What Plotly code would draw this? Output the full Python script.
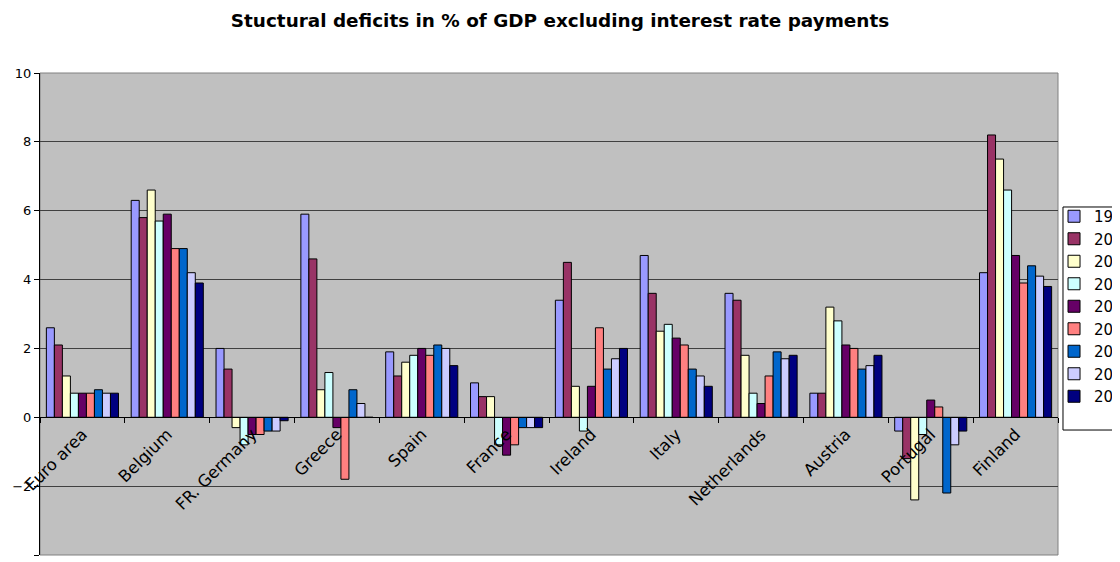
import plotly.graph_objects as go

countries = ["Euro area", "Belgium", "FR. Germany", "Greece", "Spain", "France",
             "Ireland", "Italy", "Netherlands", "Austria", "Portugal", "Finland"]
years = ["1999", "2000", "2001", "2002", "2003", "2004", "2005", "2006", "2007"]

# values per year, ordered like countries
v1999 = [2.6, 6.3, 2.0, 5.9, 1.9, 1.0, 3.4, 4.7, 3.6, 0.7, -0.4, 4.2]
v2000 = [2.1, 5.8, 1.4, 4.6, 1.2, 0.6, 4.5, 3.6, 3.4, 0.7, -1.2, 8.2]
v2001 = [1.2, 6.6, -0.3, 0.8, 1.6, 0.6, 0.9, 2.5, 1.8, 3.2, -2.4, 7.5]
v2002 = [0.7, 5.7, -0.8, 1.3, 1.8, -0.8, -0.4, 2.7, 0.7, 2.8, -0.5, 6.6]
v2003 = [0.7, 5.9, -0.5, -0.3, 2.0, -1.1, 0.9, 2.3, 0.4, 2.1, 0.5, 4.7]
v2004 = [0.7, 4.9, -0.5, -1.8, 1.8, -0.8, 2.6, 2.1, 1.2, 2.0, 0.3, 3.9]
v2005 = [0.8, 4.9, -0.4, 0.8, 2.1, -0.3, 1.4, 1.4, 1.9, 1.4, -2.2, 4.4]
v2006 = [0.7, 4.2, -0.4, 0.4, 2.0, -0.3, 1.7, 1.2, 1.7, 1.5, -0.8, 4.1]
v2007 = [0.7, 3.9, -0.1, 0.0, 1.5, -0.3, 2.0, 0.9, 1.8, 1.8, -0.4, 3.8]
series = [v1999, v2000, v2001, v2002, v2003, v2004, v2005, v2006, v2007]
colors = ["#9999FF", "#993366", "#FFFFCC", "#CCFFFF", "#660066",
          "#FF8080", "#0066CC", "#CCCCFF", "#000080"]

FONT = "'DejaVu Sans', Arial, sans-serif"

fig = go.Figure()
for yr, vals, col in zip(years, series, colors):
    fig.add_trace(go.Bar(
        name=yr, x=countries, y=vals, legendgroup=yr,
        marker=dict(color=col, line=dict(color="black", width=1)),
    ))

fig.update_layout(
    width=1120, height=554,
    paper_bgcolor="white", plot_bgcolor="#C0C0C0",
    barmode="group", bargap=0.15, bargroupgap=0,
    margin=dict(l=32, r=70, t=65, b=7, autoexpand=False),
    font=dict(family=FONT, color="black", size=12),
    title=dict(text="<b>Stuctural deficits in % of GDP excluding interest rate payments</b>",
               x=552 / 1120, xref="container", xanchor="center",
               y=0.978, yref="container", yanchor="middle",
               font=dict(family=FONT, size=18.4, color="black")),
    legend=dict(x=0.9961, xanchor="left", y=0.7365, yanchor="top",
                bgcolor="rgba(0,0,0,0)", borderwidth=0,
                font=dict(family=FONT, size=15, color="black"),
                traceorder="grouped", tracegroupgap=0),
    showlegend=True,
)

fig.update_yaxes(range=[-4, 10], dtick=2, showgrid=True, gridcolor="#404040", gridwidth=1,
                 zeroline=False, showline=True, linecolor="black", linewidth=1,
                 ticks="outside", ticklen=5, tickcolor="black",
                 tickfont=dict(family=FONT, size=13, color="black"))
fig.update_xaxes(anchor="free", position=4/14, showline=True, linecolor="black", linewidth=1,
                 showgrid=False, ticks="outside", tickson="boundaries", ticklen=5,
                 tickcolor="black", tickangle=-45,
                 tickfont=dict(family=FONT, size=16.5, color="black"))

# plot-area frame and legend frame
fig.add_shape(type="rect", xref="paper", yref="paper", x0=0, x1=1, y0=0, y1=1,
              line=dict(color="#808080", width=1), layer="below")
fig.add_shape(type="rect", xref="paper", yref="paper", x0=1.0049, x1=1.2, y0=0.2593, y1=0.722,
              line=dict(color="black", width=1), fillcolor="white", layer="below")

fig.write_html("out.html")
